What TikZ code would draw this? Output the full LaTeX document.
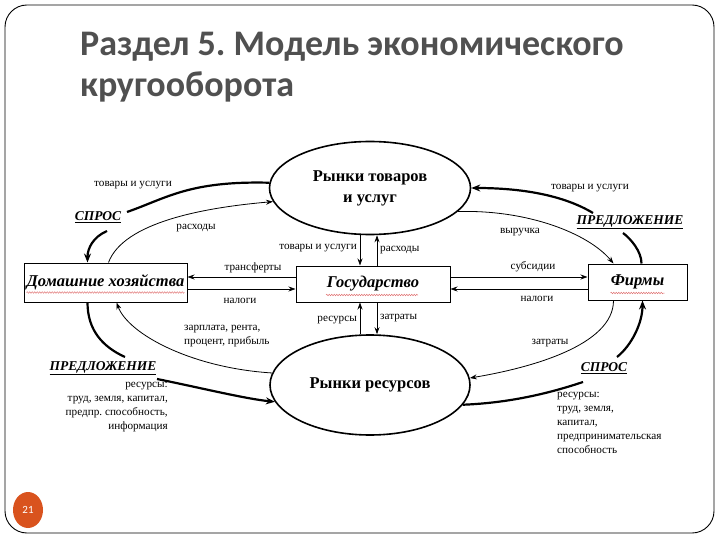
\documentclass[tikz,border=0pt]{standalone}
\usepackage{fontspec}
\setmainfont{Liberation Serif}
\newfontfamily\titlefont{Carlito}
\usetikzlibrary{shapes.geometric,arrows.meta,decorations.pathmorphing}
\definecolor{titlegray}{HTML}{505050}
\definecolor{numorange}{HTML}{D9531E}
\definecolor{wavyred}{RGB}{225,120,120}
\frenchspacing
\begin{document}
\begin{tikzpicture}[x=1pt,y=-1pt,
  lbl/.style={font=\fontsize{11.2}{13}\selectfont, inner sep=1pt},
  reslbl/.style={font=\fontsize{11.2}{14}\selectfont, inner sep=0pt},
  box/.style={draw, line width=1pt, inner sep=0pt, font=\fontsize{16.5}{18}\selectfont\bfseries\itshape},
  mkt/.style={draw, ellipse, line width=1.6pt, inner sep=0pt, align=center, font=\fontsize{16.5}{21}\selectfont\bfseries},
  sd/.style={font=\fontsize{13.5}{15}\selectfont\bfseries\itshape, inner sep=1pt},
  thinarr/.style={line width=0.8pt, -{Stealth[length=7pt,width=5pt]}},
  thickline/.style={line width=2.2pt},
  thickarr/.style={line width=2.2pt, -{Stealth[length=9pt,width=7pt]}},
  wavy/.style={wavyred, line width=0.5pt, decorate, decoration={snake, amplitude=0.8pt, segment length=2.5pt}},
  ttl/.style={anchor=base west, inner sep=0pt, font=\titlefont\bfseries\fontsize{36}{42}\selectfont, text=titlegray}
]
\useasboundingbox (0,0) rectangle (720,540);
% frame
\draw[line width=0.9pt, rounded corners=22pt] (5,5) rectangle (714,533);
% title
\node[ttl] (title1) at (80,56) {Раздел 5. Модель экономического};
\node[ttl] (title2) at (80,97) {кругооборота};
% page number
\node[ellipse, fill=numorange, minimum width=30pt, minimum height=36pt, inner sep=0pt, text=white, font=\titlefont\fontsize{11}{12}\selectfont] (pg) at (28,510) {21};

% markets
\node[mkt, minimum width=201pt, minimum height=93pt] (tov) at (370,188) {Рынки товаров\\и услуг};
\node[mkt, minimum width=200pt, minimum height=100pt] (res) at (370,385) {Рынки ресурсов};
% boxes
\node[box, minimum width=163pt, minimum height=39pt] (hh) at (105.5,282.5) {Домашние хозяйства};
\node[box, minimum width=154pt, minimum height=36pt] (gov) at (373,284) {Государство};
\node[box, minimum width=99pt, minimum height=36pt] (firm) at (637.5,282) {Фирмы};
% spell-check wavy lines
\draw[wavy] ([xshift=-79pt,yshift=-10pt]hh.center) -- ([xshift=79pt,yshift=-10pt]hh.center);
\draw[wavy] ([xshift=-47pt,yshift=-11pt]gov.center) -- ([xshift=45pt,yshift=-11pt]gov.center);
\draw[wavy] ([xshift=-27pt,yshift=-11pt]firm.center) -- ([xshift=27pt,yshift=-11pt]firm.center);

% horizontal arrows
\draw[thinarr] ([yshift=7pt]gov.west) -- ([yshift=7pt]gov.west -| hh.east);
\draw[thinarr] ([yshift=-5pt]gov.west -| hh.east) -- ([yshift=-5pt]gov.west);
\draw[thinarr] ([yshift=7pt]gov.east) -- ([yshift=7pt]gov.east -| firm.west);
\draw[thinarr] ([yshift=-5pt]gov.east -| firm.west) -- ([yshift=-5pt]gov.east);
\node[lbl] (ltr) at (253,268) {трансферты};
\node[lbl] (lnal1) at (240,301) {налоги};
\node[lbl] (lsub) at (533,267) {субсидии};
\node[lbl] (lnal2) at (537,299) {налоги};

% vertical arrows
\draw[thinarr] ([xshift=-13pt]gov.north |- tov.south) -- ([xshift=-13pt]gov.north);
\draw[thinarr] ([xshift=4pt]gov.north) -- ([xshift=4pt]gov.north |- tov.south);
\draw[thinarr] ([xshift=-13pt]gov.south |- res.north) -- ([xshift=-13pt]gov.south);
\draw[thinarr] ([xshift=4pt]gov.south) -- ([xshift=4pt]gov.south |- res.north);
\node[lbl, anchor=east] (ltg) at (358,248) {товары и услуги};
\node[lbl, anchor=west] (lrash2) at (379,250) {расходы};
\node[lbl, anchor=east] (lres2) at (358,320) {ресурсы};
\node[lbl, anchor=west] (lzat2) at (379,318) {затраты};

% ---- top left
\node[lbl] (ltovL) at (133,185) {товары и услуги};
\node[sd] (sprosL) at (98,217) {\underline{СПРОС}};
\node[lbl] (lrash) at (196,228) {расходы};
\coordinate (tlA) at (127,212);
\coordinate (tlB) at (107,231);
\draw[thickline] (tov.177) .. controls +(-80,-2) and +(40,-14) .. (tlA);
\draw[thickarr] (tlB) .. controls +(-14,6) and +(0,-14) .. ([xshift=-18pt]hh.north);
\draw[thinarr] ([xshift=3pt]hh.north) .. controls +(15,-40) and +(-70,6) .. (tov.188);

% ---- top right
\node[lbl] (ltovR) at (590,188) {товары и услуги};
\node[sd] (predR) at (630,222) {\underline{ПРЕДЛОЖЕНИЕ}};
\node[lbl] (lvyr) at (520,232) {выручка};
\coordinate (trA) at (593,213);
\coordinate (trB) at (623,233);
\draw[thickarr] (trA) .. controls +(-30,-18) and +(50,0) .. (tov.0);
\draw[thickline] (trB) .. controls +(8,6) and +(0,-12) .. ([xshift=4pt]firm.north);
\draw[thinarr] (tov.-15) .. controls +(70,-2) and +(-25,-30) .. ([xshift=-24pt]firm.north);

% ---- bottom left
\node[lbl, anchor=west, align=left, font=\fontsize{11.2}{13.5}\selectfont] (lzarp) at (183,336) {зарплата, рента,\\процент, прибыль};
\node[sd] (predL) at (103,368) {\underline{ПРЕДЛОЖЕНИЕ}};
\node[reslbl, anchor=north east, align=right] (resL) at (168,382) {ресурсы:\\труд, земля, капитал,\\предпр. способность,\\информация};
\coordinate (blA) at (125,357);
\coordinate (blB) at (157,379);
\draw[thickline] ([xshift=-18pt]hh.south) .. controls +(0,28) and +(-22,-10) .. (blA);
\draw[thickarr] (blB) .. controls +(40,8) and +(-30,-3) .. (res.190);
\draw[thinarr] (res.173) .. controls +(-80,-5) and +(12,32) .. ([xshift=11pt]hh.south);

% ---- bottom right
\node[lbl] (lzat) at (550,343) {затраты};
\node[sd] (sprosR) at (604,368) {\underline{СПРОС}};
\node[reslbl, anchor=north west, align=left] (resR) at (557,392) {ресурсы:\\труд, земля,\\капитал,\\предпринимательская\\способность};
\coordinate (brA) at (617,357);
\coordinate (brB) at (583,382);
\draw[thinarr] ([xshift=-24pt]firm.south) .. controls +(0,45) and +(60,-10) .. (res.4);
\draw[thickarr] (brA) .. controls +(15,-12) and +(0,22) .. ([xshift=5pt]firm.south);
\draw[thickline] (res.-12) .. controls +(50,-2) and +(-30,10) .. (brB);
\end{tikzpicture}
\end{document}
